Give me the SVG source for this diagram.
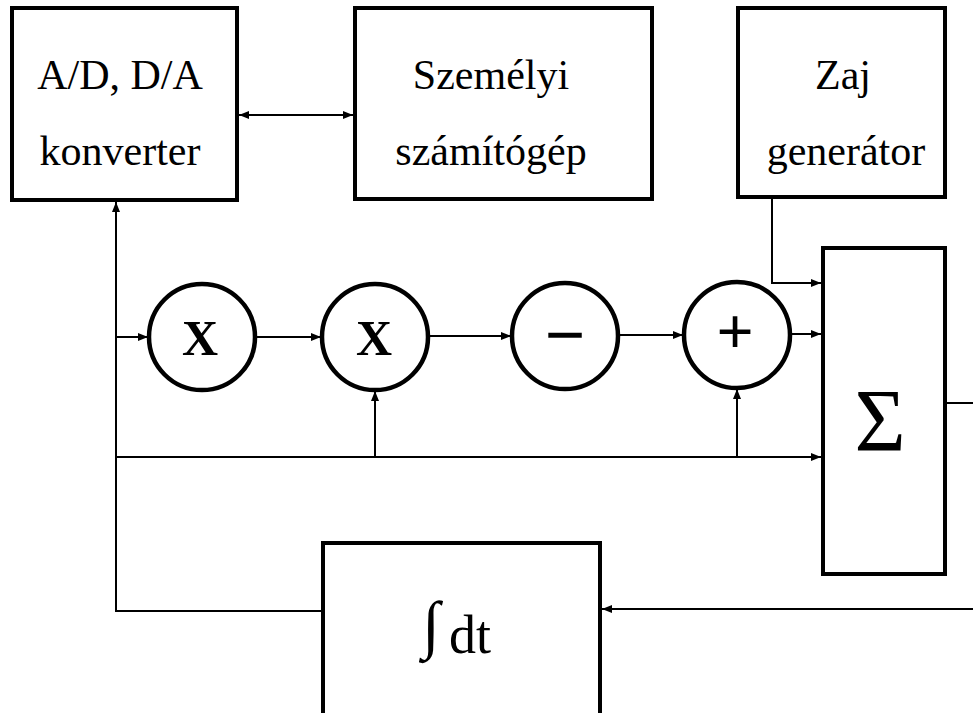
<svg xmlns="http://www.w3.org/2000/svg" width="973" height="713" viewBox="0 0 973 713">
<style>
.box{fill:#fff;stroke:#000;stroke-width:4}
.circ{fill:#fff;stroke:#000;stroke-width:4.5}
.wire{fill:none;stroke:#000;stroke-width:2}
.t{font-family:"Liberation Serif","Times New Roman",serif;font-size:42px;fill:#000;text-anchor:middle}
.op{font-family:"Liberation Serif","Times New Roman",serif;font-weight:bold;fill:#000;text-anchor:middle}
</style>
<defs>
<marker id="ah" viewBox="0 0 10 8" refX="10" refY="4" markerWidth="10" markerHeight="8" markerUnits="userSpaceOnUse" orient="auto-start-reverse">
<path d="M0,0 L10,4 L0,8 Z" fill="#000"/>
</marker>
</defs>
<rect width="973" height="713" fill="#fff"/>
<g id="connectors">
<path class="wire" d="M239,115 H353" marker-start="url(#ah)" marker-end="url(#ah)"/>
<path class="wire" d="M323,611 H116 V202" marker-end="url(#ah)"/>
<path class="wire" d="M116,337 H148" marker-end="url(#ah)"/>
<path class="wire" d="M116,457 H821" marker-end="url(#ah)"/>
<path class="wire" d="M256,337 H321" marker-end="url(#ah)"/>
<path class="wire" d="M428,336 H511" marker-end="url(#ah)"/>
<path class="wire" d="M618,335 H683" marker-end="url(#ah)"/>
<path class="wire" d="M790,334 H821" marker-end="url(#ah)"/>
<path class="wire" d="M375,457 V391" marker-end="url(#ah)"/>
<path class="wire" d="M737,456 V389" marker-end="url(#ah)"/>
<path class="wire" d="M772,198 V283 H821" marker-end="url(#ah)"/>
<path class="wire" d="M945,403 H973"/>
<path class="wire" d="M973,609 H602" marker-end="url(#ah)"/>
</g>
<g id="adda">
<rect class="box" x="12" y="8" width="225" height="192"/>
<text class="t" x="120" y="89">A/D, D/A</text>
<text class="t" x="120" y="165">konverter</text>
</g>
<g id="pc">
<rect class="box" x="355" y="8" width="297" height="191"/>
<text class="t" x="491" y="89">Személyi</text>
<text class="t" x="491" y="165">számítógép</text>
</g>
<g id="zaj">
<rect class="box" x="738" y="8" width="207" height="189"/>
<text class="t" x="843" y="89">Zaj</text>
<text class="t" x="846" y="165">generátor</text>
</g>
<g id="mul1">
<circle class="circ" cx="202" cy="337" r="53"/>
<text class="op" x="200" y="355" font-size="50">X</text>
</g>
<g id="mul2">
<circle class="circ" cx="375" cy="337" r="53"/>
<text class="op" x="374" y="355" font-size="50">X</text>
</g>
<g id="sub">
<circle class="circ" cx="565" cy="336" r="53"/>
<text class="op" x="565" y="359" font-size="72">−</text>
</g>
<g id="add">
<circle class="circ" cx="737" cy="335" r="53"/>
<text class="op" x="735" y="354" font-size="66">+</text>
</g>
<g id="sum">
<rect class="box" x="823" y="248" width="122" height="326"/>
<text class="t" x="880" y="450" style="font-size:88px">Σ</text>
</g>
<g id="integ">
<rect class="box" x="323" y="543" width="277" height="175"/>
<text class="t" x="431" y="646" style="font-size:64px">∫</text>
<text class="t" x="449" y="653" style="font-size:54px;text-anchor:start">dt</text>
</g>
</svg>
